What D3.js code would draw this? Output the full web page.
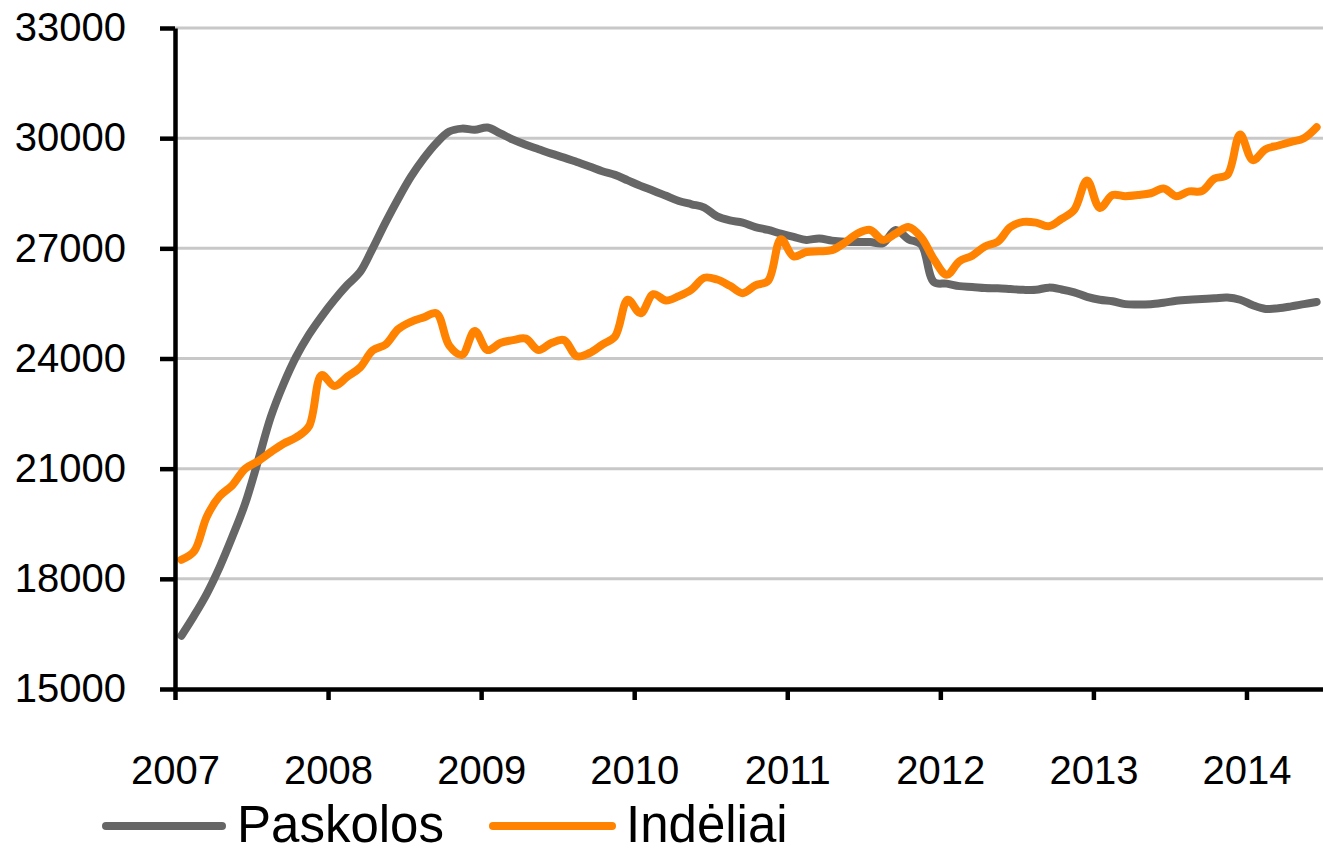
<!DOCTYPE html>
<html>
<head>
<meta charset="utf-8">
<script src="https://cdn.jsdelivr.net/npm/d3@7"></script>
<style>
  html, body { margin: 0; padding: 0; background: #fff; }
  svg { display: block; font-family: "Liberation Sans", Arial, sans-serif; }
  .grid line { stroke: #c8c8c8; stroke-width: 3; }
  .axis path, .axis line { stroke: #000; stroke-width: 4.5; }
  .axis text { font-size: 40px; fill: #000; }
  .series { fill: none; stroke-width: 8; stroke-linejoin: round; stroke-linecap: round; }
</style>
</head>
<body>
<svg id="chart" width="1323" height="853"></svg>
<script>
// Mėnesiniai duomenys, 2007 m. sausis – 2014 m. birželis (mln. Lt)
const START_YEAR = 2007;
const PASKOLOS = [
  16450, 17000, 17600, 18320, 19150, 20050, 21200, 22400, 23300, 24050, 24650, 25150,
  25600, 26000, 26350, 27000, 27700, 28350, 28950, 29450, 29870, 30180, 30260, 30230,
  30290, 30130, 29960, 29820, 29700, 29580, 29470, 29350, 29230, 29100, 29000, 28850,
  28700, 28570, 28430, 28290, 28200, 28110, 27870, 27760, 27700, 27580, 27500, 27400,
  27310, 27230, 27270, 27210, 27180, 27170, 27170, 27140, 27500, 27250, 27100, 26080,
  26040, 25970, 25950, 25920, 25910, 25890, 25870, 25870, 25930, 25880, 25800, 25680,
  25600, 25560, 25480, 25470, 25480, 25520, 25570, 25600, 25620, 25640, 25660, 25600,
  25450, 25350, 25370, 25420, 25480, 25540
];
const INDELIAI = [
  18520, 18750, 19700, 20250, 20550, 21000, 21200, 21450, 21680, 21850, 22150, 23550,
  23250, 23500, 23750, 24220, 24380, 24800, 25000, 25120, 25230, 24350, 24100, 24750,
  24230, 24420, 24500, 24540, 24230, 24420, 24500, 24060, 24150, 24380, 24600, 25600,
  25230, 25750, 25580, 25700, 25880, 26200, 26150, 25980, 25780, 25990, 26120, 27250,
  26780, 26900, 26920, 26950, 27150, 27400, 27500, 27230, 27400, 27580, 27300, 26700,
  26280, 26650, 26800, 27050, 27180, 27580, 27720, 27700, 27600, 27800, 28050, 28850,
  28100, 28450, 28420, 28450, 28500, 28630, 28420, 28550, 28560, 28900, 29000, 30100,
  29400, 29700, 29800, 29900, 30000, 30300
];
const YEARS = [2007, 2008, 2009, 2010, 2011, 2012, 2013, 2014];
const Y_TICKS = [15000, 18000, 21000, 24000, 27000, 30000, 33000];
const SERIES = [
  { name: "Paskolos", values: PASKOLOS, color: "#666666" },
  { name: "Indėliai", values: INDELIAI, color: "#ff8200" }
];

const SVG = d3.select("#chart");
const MARGIN = { top: 28, right: 0, bottom: 164, left: 175 };
const WIDTH = 1323;
const HEIGHT = 853;

const x = d3.scaleLinear()
  .domain([2007, 2014.5])
  .range([MARGIN.left, WIDTH - MARGIN.right]);
const y = d3.scaleLinear()
  .domain([15000, 33000])
  .range([HEIGHT - MARGIN.bottom, MARGIN.top]);

// taškai mėnesio viduryje
const monthPos = i => START_YEAR + (i + 0.5) / 12;

// tinklelio linijos
SVG.append("g").attr("class", "grid")
  .selectAll("line")
  .data(Y_TICKS.filter(d => d !== 15000))
  .join("line")
  .attr("x1", x(2007)).attr("x2", x(2014.5))
  .attr("y1", d => y(d)).attr("y2", d => y(d));

// linijos
const line = d3.line()
  .x((d, i) => x(monthPos(i)))
  .y(d => y(d))
  .curve(d3.curveCatmullRom.alpha(0.5));

SVG.selectAll("path.series")
  .data(SERIES)
  .join("path")
  .attr("class", "series")
  .attr("stroke", d => d.color)
  .attr("d", d => line(d.values));

// ašys
SVG.append("g")
  .attr("class", "axis")
  .attr("transform", `translate(${MARGIN.left},0)`)
  .call(d3.axisLeft(y).tickValues(Y_TICKS).tickSize(15).tickSizeOuter(0).tickPadding(34).tickFormat(d3.format("d")));

const xAxis = SVG.append("g")
  .attr("class", "axis")
  .attr("transform", `translate(0,${HEIGHT - MARGIN.bottom})`)
  .call(d3.axisBottom(x).tickValues(YEARS).tickSize(11).tickSizeOuter(0).tickFormat(d3.format("d")));
xAxis.selectAll("text").attr("y", 95).attr("dy", 0);

SVG.selectAll(".axis").attr("font-family", null).attr("font-size", null);

// legenda
const LEGEND = [
  { x1: 106, x2: 222, tx: 237 },
  { x1: 493, x2: 612, tx: 626 }
];
const legend = SVG.append("g");
SERIES.forEach((s, i) => {
  const p = LEGEND[i];
  legend.append("line")
    .attr("x1", p.x1).attr("x2", p.x2)
    .attr("y1", 826).attr("y2", 826)
    .attr("stroke", s.color)
    .attr("stroke-width", 8)
    .attr("stroke-linecap", "round");
  legend.append("text")
    .attr("x", p.tx).attr("y", 842)
    .attr("font-size", 51)
    .attr("fill", "#000")
    .text(s.name);
});
</script>
</body>
</html>
